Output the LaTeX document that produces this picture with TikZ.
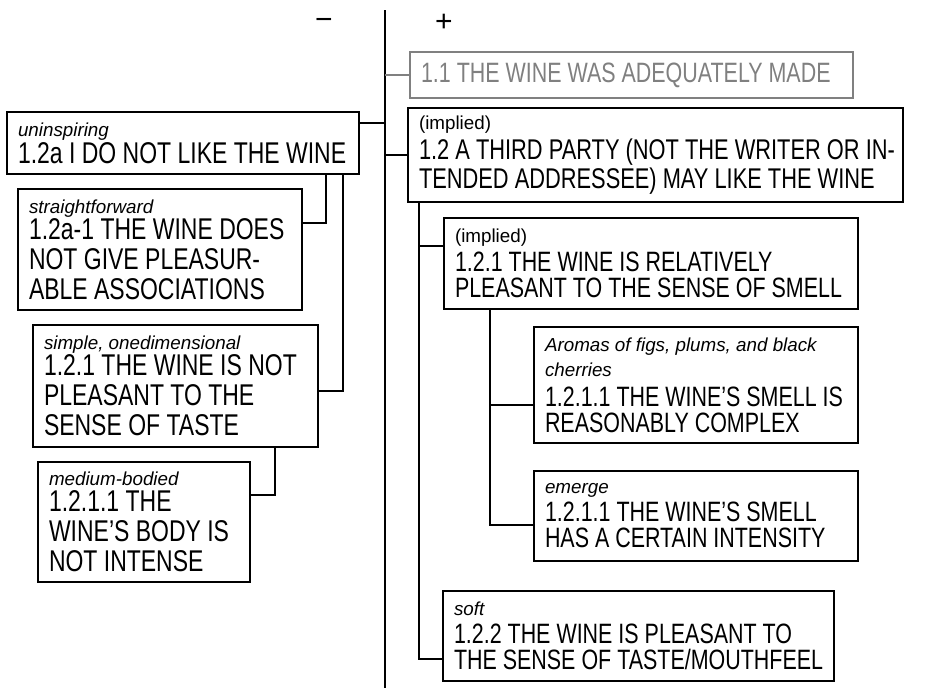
\documentclass[tikz,border=0pt]{standalone}
\usepackage{fontspec}
\setmainfont{Liberation Sans}[FakeStretch=0.766]
\newfontfamily\smallfam{Liberation Sans}
\newcommand\lab[1]{\mbox{\smallfam\fontsize{18.8}{22}\selectfont\itshape #1}}
\newcommand\impl[1]{\mbox{\smallfam\fontsize{18.8}{22}\selectfont #1}}
\definecolor{boxgray}{RGB}{128,128,128}
\begin{document}
\begin{tikzpicture}[x=1pt,y=-1pt,
  box/.style={draw, line width=1.5pt, anchor=north west, inner xsep=11pt, inner ysep=0pt,
    outer sep=0pt, align=left, font=\fontsize{28}{26}\selectfont,
    execute at begin node={\spaceskip=0pt\xspaceskip=0pt\relax}},
  lbox/.style={box, font=\fontsize{30}{30}\selectfont},
  conn/.style={draw, line width=1.5pt},
  gconn/.style={draw=boxgray, line width=1.5pt},
  sign/.style={inner sep=0pt, anchor=base, font=\smallfam\fontsize{30}{32}\selectfont}]
\useasboundingbox (0,0) rectangle (943,688);

% axis and signs
\coordinate (axtop) at (385,10);
\coordinate (axbot) at (385,688);
\draw[conn] (axtop) -- (axbot);
\node[sign] (minus) at (324,30) {−};
\node[sign] (plus) at (444,31) {+};

% right side
\node[box, draw=boxgray, text=boxgray, text width=421pt, minimum height=46pt] (b11) at (410,52)
  {\mbox{1.1 THE WINE WAS ADEQUATELY MADE}};
\node[box, font=\fontsize{28.5}{29}\selectfont, text width=473pt, minimum height=94pt] (b12) at (408,108)
  {\impl{(implied)}\\[1pt]\mbox{1.2 A THIRD PARTY (NOT THE WRITER OR IN-}\\\mbox{TENDED ADDRESSEE) MAY LIKE THE WINE}};
\node[box, text width=392pt, minimum height=91pt] (bR121) at (444,218)
  {\impl{(implied)}\\[3pt]\mbox{1.2.1 THE WINE IS RELATIVELY}\\\mbox{PLEASANT TO THE SENSE OF SMELL}};
\node[box, text width=302pt, minimum height=116pt] (bR1211a) at (534,327)
  {\lab{Aromas of figs, plums, and black}\\[-1pt]\lab{cherries}\\[4pt]\mbox{1.2.1.1 THE WINE’S SMELL IS}\\\mbox{REASONABLY COMPLEX}};
\node[box, text width=302pt, minimum height=90pt] (bR1211b) at (534,471)
  {\lab{emerge}\\[2pt]\mbox{1.2.1.1 THE WINE’S SMELL}\\\mbox{HAS A CERTAIN INTENSITY}};
\node[box, text width=369pt, minimum height=90pt] (bR122) at (443,591)
  {\lab{soft}\\[2pt]\mbox{1.2.2 THE WINE IS PLEASANT TO}\\\mbox{THE SENSE OF TASTE/MOUTHFEEL}};

% left side
\node[lbox, text width=330pt, minimum height=62pt] (b12a) at (7,112)
  {\lab{uninspiring}\\[-3pt]\mbox{1.2a I DO NOT LIKE THE WINE}};
\node[lbox, text width=262pt, minimum height=121pt] (b12a1) at (18,189)
  {\lab{straightforward}\\[-4pt]\mbox{1.2a-1 THE WINE DOES}\\\mbox{NOT GIVE PLEASUR-}\\\mbox{ABLE ASSOCIATIONS}};
\node[lbox, text width=263pt, minimum height=122pt] (bL121) at (33,325)
  {\lab{simple, onedimensional}\\[-4pt]\mbox{1.2.1 THE WINE IS NOT}\\\mbox{PLEASANT TO THE}\\\mbox{SENSE OF TASTE}};
\node[lbox, text width=190pt, minimum height=120pt] (bL1211) at (38,462)
  {\lab{medium-bodied}\\[-4pt]\mbox{1.2.1.1 THE}\\\mbox{WINE’S BODY IS}\\\mbox{NOT INTENSE}};

% connectors
\draw[gconn] (b11.west -| axtop) -- (b11.west);
\draw[conn] (b12.west -| axtop) -- (b12.west);
\coordinate (p12a) at ([yshift=20pt]b12a.east);
\draw[conn] (p12a) -- (p12a -| axtop);

\coordinate (s12a1) at ([xshift=-33pt]b12a.south east);
\coordinate (e12a1) at ([yshift=26.5pt]b12a1.east);
\draw[conn] (s12a1) |- (e12a1);
\coordinate (sL121) at ([xshift=-16pt]b12a.south east);
\coordinate (eL121) at ([yshift=-5pt]bL121.east);
\draw[conn] (sL121) |- (eL121);
\coordinate (sL1211) at ([xshift=-43pt]bL121.south east);
\coordinate (eL1211) at ([yshift=27pt]bL1211.east);
\draw[conn] (sL1211) |- (eL1211);

\coordinate (sR) at ([xshift=11pt]b12.south west);
\coordinate (eR121) at ([yshift=17.5pt]bR121.west);
\coordinate (eR122) at ([yshift=-23pt]bR122.west);
\draw[conn] (sR) |- (eR122);
\draw[conn] (eR121 -| sR) -- (eR121);
\coordinate (sR1211) at ([xshift=46pt]bR121.south west);
\coordinate (eR1211a) at ([yshift=-20pt]bR1211a.west);
\coordinate (eR1211b) at ([yshift=-9pt]bR1211b.west);
\draw[conn] (sR1211) |- (eR1211b);
\draw[conn] (eR1211a -| sR1211) -- (eR1211a);
\end{tikzpicture}
\end{document}
